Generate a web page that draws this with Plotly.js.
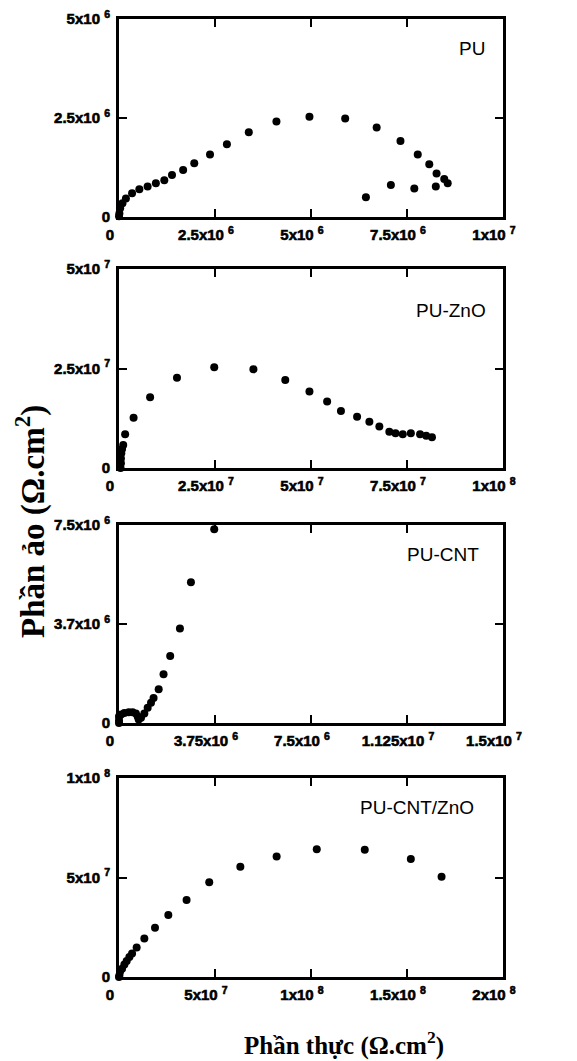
<!DOCTYPE html>
<html>
<head>
<meta charset="utf-8">
<script src="https://cdn.plot.ly/plotly-3.0.1.min.js"></script>
<style>
html,body{margin:0;padding:0;background:#fff;}
#chart{width:577px;height:1061px;}
#chart .xtick text, #chart .ytick text, #chart .x2tick text, #chart .y2tick text,
#chart .x3tick text, #chart .y3tick text, #chart .x4tick text, #chart .y4tick text {stroke:#000; stroke-width:0.6px;}
</style>
</head>
<body>
<div id="chart"></div>
<script>
// ---------- Data ----------
var panelNames = ["PU", "PU-ZnO", "PU-CNT", "PU-CNT/ZnO"];

var puX = [0.0e6, 0.01e6, 0.03e6, 0.09e6, 0.18e6, 0.34e6, 0.53e6, 0.745e6, 0.96e6, 1.18e6, 1.38e6, 1.67e6, 1.96e6, 2.37e6, 2.81e6, 3.38e6, 4.10e6, 4.96e6, 5.89e6, 6.71e6, 7.33e6, 7.78e6, 8.08e6, 8.27e6, 8.47e6, 8.56e6, 8.25e6, 7.69e6, 7.08e6, 6.43e6];
var puY = [0.02e6, 0.09e6, 0.22e6, 0.35e6, 0.47e6, 0.60e6, 0.70e6, 0.77e6, 0.85e6, 0.93e6, 1.06e6, 1.19e6, 1.36e6, 1.58e6, 1.84e6, 2.14e6, 2.41e6, 2.53e6, 2.49e6, 2.26e6, 1.92e6, 1.58e6, 1.33e6, 1.10e6, 0.96e6, 0.85e6, 0.77e6, 0.72e6, 0.81e6, 0.50e6];

var znoX = [0.04e7, 0.05e7, 0.05e7, 0.06e7, 0.08e7, 0.11e7, 0.16e7, 0.38e7, 0.81e7, 1.51e7, 2.48e7, 3.50e7, 4.33e7, 4.96e7, 5.42e7, 5.78e7, 6.20e7, 6.52e7, 6.78e7, 7.04e7, 7.20e7, 7.39e7, 7.60e7, 7.84e7, 8.00e7, 8.15e7];
var znoY = [0.0e7, 0.12e7, 0.24e7, 0.37e7, 0.48e7, 0.58e7, 0.85e7, 1.26e7, 1.78e7, 2.27e7, 2.53e7, 2.48e7, 2.21e7, 1.92e7, 1.67e7, 1.43e7, 1.29e7, 1.16e7, 1.04e7, 0.91e7, 0.87e7, 0.85e7, 0.87e7, 0.85e7, 0.81e7, 0.77e7];

var cntX = [0.0e6, 0.0e6, 0.0e6, 0.08e6, 0.21e6, 0.38e6, 0.53e6, 0.66e6, 0.73e6, 0.77e6, 0.86e6, 0.99e6, 1.12e6, 1.25e6, 1.35e6, 1.55e6, 1.74e6, 2.00e6, 2.38e6, 2.81e6, 3.72e6];
var cntY = [0.0e6, 0.10e6, 0.25e6, 0.32e6, 0.38e6, 0.41e6, 0.41e6, 0.36e6, 0.25e6, 0.13e6, 0.20e6, 0.36e6, 0.58e6, 0.77e6, 0.95e6, 1.28e6, 1.85e6, 2.54e6, 3.58e6, 5.33e6, 7.34e6];

var cntZnoX = [0.0e7, 0.02e7, 0.05e7, 0.16e7, 0.28e7, 0.40e7, 0.54e7, 0.68e7, 0.92e7, 1.32e7, 1.875e7, 2.57e7, 3.52e7, 4.70e7, 6.32e7, 8.21e7, 10.3e7, 12.8e7, 15.2e7, 16.8e7];
var cntZnoY = [0.0e7, 0.08e7, 0.25e7, 0.42e7, 0.63e7, 0.81e7, 1.01e7, 1.18e7, 1.48e7, 1.94e7, 2.47e7, 3.11e7, 3.87e7, 4.76e7, 5.54e7, 6.05e7, 6.42e7, 6.39e7, 5.93e7, 5.04e7];

// Tick values and labels
var xTickVals = [[0, 2.5e6, 5e6, 7.5e6, 1e7], [0, 2.5e7, 5e7, 7.5e7, 1e8], [0, 3.75e6, 7.5e6, 1.125e7, 1.5e7], [0, 5e7, 1e8, 1.5e8, 2e8]];
var xTickText = [["0", "2.5x10 <sup>6</sup>", "5x10 <sup>6</sup>", "7.5x10 <sup>6</sup>", "1x10 <sup>7</sup>"],
                 ["0", "2.5x10 <sup>7</sup>", "5x10 <sup>7</sup>", "7.5x10 <sup>7</sup>", "1x10 <sup>8</sup>"],
                 ["0", "3.75x10 <sup>6</sup>", "7.5x10 <sup>6</sup>", "1.125x10 <sup>7</sup>", "1.5x10 <sup>7</sup>"],
                 ["0", "5x10 <sup>7</sup>", "1x10 <sup>8</sup>", "1.5x10 <sup>8</sup>", "2x10 <sup>8</sup>"]];
var yTickVals = [[0, 2.5e6, 5e6], [0, 2.5e7, 5e7], [0, 3.75e6, 7.5e6], [0, 5e7, 1e8]];
var yTickText = [["0", "2.5x10 <sup>6</sup>", "5x10 <sup>6</sup>"],
                 ["0", "2.5x10 <sup>7</sup>", "5x10 <sup>7</sup>"],
                 ["0", "3.7x10 <sup>6</sup>", "7.5x10 <sup>6</sup>"],
                 ["0", "5x10 <sup>7</sup>", "1x10 <sup>8</sup>"]];
var xRanges = [[0, 1e7], [0, 1e8], [0, 1.5e7], [0, 2e8]];
var yRanges = [[0, 5e6], [0, 5e7], [0, 7.5e6], [0, 1e8]];

var xTitle = "Phần thực (Ω.cm<sup>2</sup>)";
var yTitle = "Phần ảo (Ω.cm<sup>2</sup>)";

// ---------- Layout ----------
(function () {
  var W = 577, H = 1061;
  var xDom = [119 / W, 503 / W];
  var panelPx = [[19, 217], [269, 468], [525, 723], [778, 977]]; // top, bottom in px
  var seriesX = [puX, znoX, cntX, cntZnoX];
  var seriesY = [puY, znoY, cntY, cntZnoY];
  function bold(arr) { return arr.map(function (s) { return "<b>" + s + "</b>"; }); }

  function tf() { return {family: "Liberation Sans, Arial, sans-serif", size: 15, color: "#000"}; }
  var traces = [];
  var layout = {
    width: W, height: H,
    margin: {l: 0, r: 0, t: 0, b: 0},
    paper_bgcolor: "#fff", plot_bgcolor: "#fff",
    showlegend: false,
    font: {family: "Liberation Sans, Arial, sans-serif", size: 15, color: "#000"},
    annotations: []
  };
  var labelRight = [487, 488, 481, 476];
  var labelY = [48, 310, 554, 807];

  for (var i = 0; i < 4; i++) {
    var sfx = i === 0 ? "" : String(i + 1);
    traces.push({
      type: "scatter", mode: "markers",
      x: seriesX[i], y: seriesY[i],
      xaxis: "x" + sfx, yaxis: "y" + sfx,
      marker: {symbol: "circle", size: 8, color: "#000"},
      cliponaxis: false, hoverinfo: "skip"
    });
    var pTop = panelPx[i][0], pBot = panelPx[i][1];
    layout["xaxis" + sfx] = {
      showgrid: false, zeroline: false,
      showline: true, linecolor: "#000", linewidth: 3,
      mirror: "allticks", ticks: "inside", ticklen: 8, tickwidth: 2, tickcolor: "#000",
      tickmode: "array", tickfont: tf(), fixedrange: true,
      domain: xDom, range: xRanges[i], anchor: "y" + sfx,
      tickvals: xTickVals[i], ticktext: bold(xTickText[i]),
      ticklabelshift: -9, ticklabelstandoff: 2
    };
    layout["yaxis" + sfx] = {
      showgrid: false, zeroline: false,
      showline: true, linecolor: "#000", linewidth: 3,
      mirror: "allticks", ticks: "inside", ticklen: 8, tickwidth: 2, tickcolor: "#000",
      tickmode: "array", tickfont: tf(), fixedrange: true,
      domain: [1 - pBot / H, 1 - pTop / H], range: yRanges[i], anchor: "x" + sfx,
      tickvals: yTickVals[i], ticktext: bold(yTickText[i]),
      ticklabelstandoff: 3
    };
    layout.annotations.push({
      xref: "paper", yref: "paper", x: labelRight[i] / W, y: 1 - labelY[i] / H,
      xanchor: "right", yanchor: "middle", showarrow: false,
      text: panelNames[i],
      font: {family: "Liberation Sans, Arial, sans-serif", size: 19, color: "#000"}
    });
  }

  layout.annotations.push({
    xref: "paper", yref: "paper", x: 344 / W, y: 1 - 1043 / H,
    xanchor: "center", yanchor: "middle", showarrow: false,
    text: "<b>" + xTitle + "</b>",
    font: {family: "Liberation Serif, Times New Roman, serif", size: 25, color: "#000"}
  });
  layout.annotations.push({
    xref: "paper", yref: "paper", x: 30 / W, y: 1 - 522 / H,
    xanchor: "center", yanchor: "middle", showarrow: false, textangle: -90,
    text: "<b>" + yTitle + "</b>",
    font: {family: "Liberation Serif, Times New Roman, serif", size: 33, color: "#000"}
  });

  Plotly.newPlot("chart", traces, layout, {staticPlot: true, displayModeBar: false});
})();
</script>
</body>
</html>
